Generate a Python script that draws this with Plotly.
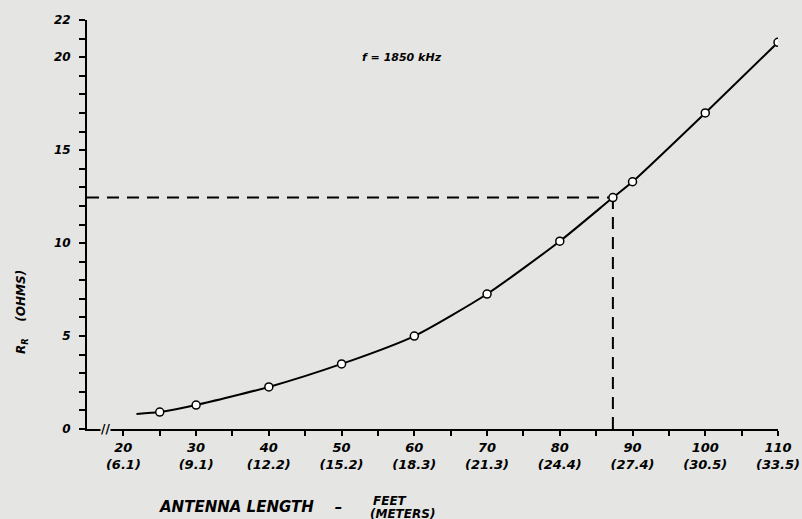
import plotly.graph_objects as go

# ---- data ----
curve_ft = [21.8, 25, 30, 40, 50, 60, 70, 80, 87.3, 90, 100, 110]
curve_r = [0.81, 0.91, 1.29, 2.26, 3.5, 5.0, 7.26, 10.1, 12.45, 13.3, 17.0, 20.8]
point_ft = [25, 30, 40, 50, 60, 70, 80, 87.3, 90, 100, 110]
point_r = [0.91, 1.29, 2.26, 3.5, 5.0, 7.26, 10.1, 12.45, 13.3, 17.0, 20.8]
resonant_ft = 87.3
resonant_r = 12.45
x_tick_ft = [20, 30, 40, 50, 60, 70, 80, 90, 100, 110]
x_tick_m = ["6.1", "9.1", "12.2", "15.2", "18.3", "21.3", "24.4", "27.4", "30.5", "33.5"]
x_minor = [25, 35, 45, 55, 65, 75, 85, 95, 105]
y_ticks = [0, 5, 10, 15, 20, 22]
freq_label = "f = 1850 kHz"

BG = "#e5e5e3"
FONT = "DejaVu Sans"

def bi(size):
    return dict(family=FONT, size=size, color="black", style="italic", weight="bold")

fig = go.Figure()
fig.add_trace(go.Scatter(
    x=curve_ft, y=curve_r, mode="lines",
    line=dict(color="black", width=2, shape="spline", smoothing=0.6),
    hoverinfo="skip", showlegend=False))
fig.add_trace(go.Scatter(
    x=point_ft, y=point_r, mode="markers",
    marker=dict(symbol="circle", size=8, color="white",
                line=dict(color="black", width=1.5)),
    showlegend=False))

# dashed resonance lines
fig.add_shape(type="line", x0=15, x1=resonant_ft, y0=resonant_r, y1=resonant_r,
              line=dict(color="black", width=2, dash="12px,8px"), layer="below")
fig.add_shape(type="line", x0=resonant_ft, x1=resonant_ft, y0=0, y1=resonant_r,
              line=dict(color="black", width=2, dash="12px,8px"), layer="below")

fig.update_xaxes(
    range=[15, 110], showgrid=False, zeroline=False, automargin=False,
    showline=True, linecolor="black", linewidth=2,
    tickmode="array", tickvals=x_tick_ft,
    ticktext=[f"{f}<br>({m})" for f, m in zip(x_tick_ft, x_tick_m)],
    ticks="outside", ticklen=5, tickwidth=2, tickcolor="black",
    minor=dict(tickmode="array", tickvals=x_minor, ticks="outside",
               ticklen=5, tickwidth=2, tickcolor="black"),
    tickfont=bi(13))
fig.update_yaxes(
    range=[0, 22], showgrid=False, zeroline=False, automargin=False,
    showline=True, linecolor="black", linewidth=2,
    tickmode="array", tickvals=y_ticks,
    ticks="outside", ticklen=6, tickwidth=2, tickcolor="black",
    minor=dict(dtick=1, tick0=0, ticks="outside", ticklen=6,
               tickwidth=1.5, tickcolor="black"),
    tickfont=bi(12), ticklabelstandoff=6)

# axis break
fig.add_annotation(x=17.6, y=0, xref="x", yref="y", text="//", showarrow=False,
                   xanchor="center", yanchor="middle",
                   font=dict(family=FONT, size=12, color="black", weight="bold"),
                   bgcolor=BG, borderpad=0)
# frequency label
fig.add_annotation(x=58.3, y=20.0, xref="x", yref="y", text=freq_label, showarrow=False,
                   xanchor="center", yanchor="middle", font=bi(11))
# y title
fig.add_annotation(x=-0.094, y=0.286, xref="paper", yref="paper",
                   text="R<sub>R</sub>    (OHMS)", textangle=-90, showarrow=False,
                   xanchor="center", yanchor="middle", font=bi(12))
# x title
fig.add_annotation(x=0.236, y=-0.19, xref="paper", yref="paper",
                   text="ANTENNA LENGTH    \u2013", showarrow=False,
                   xanchor="center", yanchor="middle", font=bi(15))
fig.add_annotation(x=0.438, y=-0.176, xref="paper", yref="paper",
                   text="FEET", showarrow=False,
                   xanchor="center", yanchor="middle", font=bi(12))
fig.add_annotation(x=0.457, y=-0.209, xref="paper", yref="paper",
                   text="(METERS)", showarrow=False,
                   xanchor="center", yanchor="middle", font=bi(12))

fig.update_layout(
    width=802, height=519,
    margin=dict(l=87, r=24, t=20, b=90),
    paper_bgcolor=BG, plot_bgcolor=BG,
    showlegend=False)

fig.write_html(
    "out.html",
    config={"displayModeBar": False},
    post_script=f"document.body.style.margin='0';document.body.style.background='{BG}';")
